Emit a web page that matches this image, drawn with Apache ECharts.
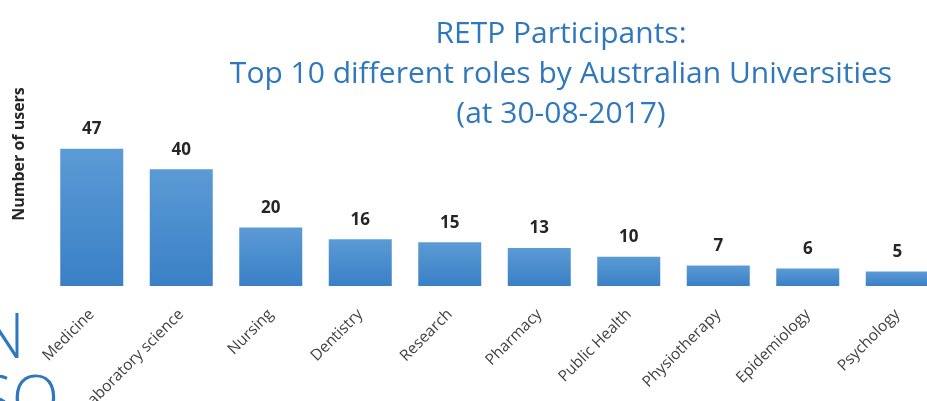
<!DOCTYPE html>
<html>
<head>
<meta charset="utf-8">
<script src="https://cdn.jsdelivr.net/npm/echarts@6/dist/echarts.min.js"></script>
<style>html,body{margin:0;padding:0;background:#fff;}#c{width:927px;height:401px;}</style>
</head>
<body>
<div id="c"></div>
<script>
const categories = ['Medicine','Laboratory science','Nursing','Dentistry','Research','Pharmacy','Public Health','Physiotherapy','Epidemiology','Psychology'];
const users = [47, 40, 20, 16, 15, 13, 10, 7, 6, 5];
const titleLines = ['RETP Participants:', 'Top 10 different roles by Australian Universities', '(at 30-08-2017)'];
const yAxisTitle = 'Number of users';

const chart = echarts.init(document.getElementById('c'));
chart.setOption({
  backgroundColor: '#ffffff',
  animation: false,
  title: {
    text: titleLines.join('\n'),
    left: 556, top: 9, textAlign: 'center',
    textStyle: { fontFamily: 'Open Sans', fontSize: 30, fontWeight: 500, color: '#2f78bd', lineHeight: 40 }
  },
  grid: { left: 47, width: 895, top: 140, bottom: 115, outerBoundsMode: 'none', containLabel: false },
  xAxis: {
    type: 'category', data: categories,
    axisLine: { show: false }, axisTick: { show: false },
    axisLabel: { interval: 0, rotate: 45, margin: 26, fontFamily: 'Open Sans', fontSize: 15.5, color: '#404040' }
  },
  yAxis: {
    type: 'value', min: 0, max: 50,
    axisLine: { show: false }, axisTick: { show: false }, axisLabel: { show: false }, splitLine: { show: false }
  },
  graphic: [
    { type: 'text', x: 19, y: 154, rotation: Math.PI / 2,
      style: { text: yAxisTitle, fontFamily: 'Open Sans', fontWeight: 'bold', fontSize: 16, fill: '#262626', align: 'center', verticalAlign: 'middle' } },
    { type: 'text', x: -20, y: 340,
      style: { text: 'N', fontFamily: 'Open Sans', fontWeight: 300, fontSize: 62, fill: '#2f78bd', align: 'left', verticalAlign: 'middle' } },
    { type: 'text', x: -22, y: 402,
      style: { text: 'SO', fontFamily: 'Open Sans', fontWeight: 300, fontSize: 62, fill: '#2f78bd', align: 'left', verticalAlign: 'middle' } }
  ],
  series: [{
    type: 'bar', data: users, barWidth: 63,
    itemStyle: {
      color: new echarts.graphic.LinearGradient(0, 0, 0, 1, [
        { offset: 0, color: '#5b9bd5' }, { offset: 1, color: '#3a80c6' }
      ])
    },
    label: { show: true, position: 'top', distance: 11, fontFamily: 'Open Sans', fontWeight: 'bold', fontSize: 17, color: '#262626' }
  }]
});
</script>
</body>
</html>
